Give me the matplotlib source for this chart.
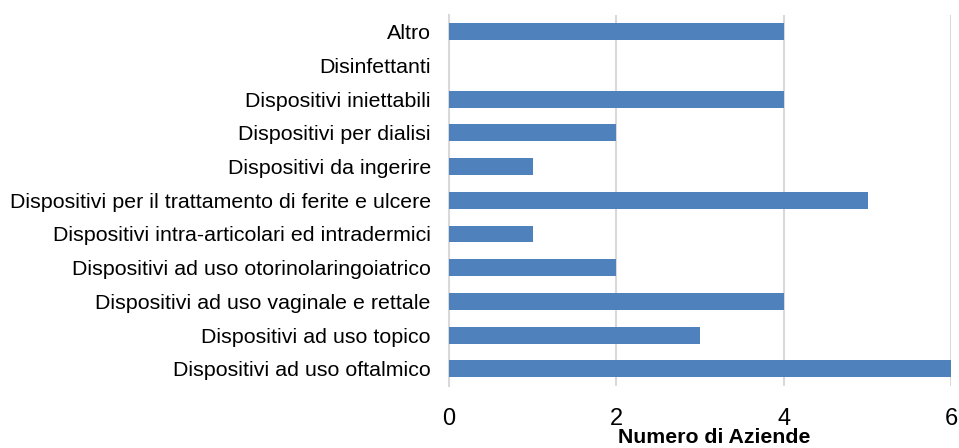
import matplotlib.pyplot as plt

plt.rcParams['font.family'] = ['Liberation Sans', 'DejaVu Sans']

categories = [
    "Dispositivi ad uso oftalmico",
    "Dispositivi ad uso topico",
    "Dispositivi ad uso vaginale e rettale",
    "Dispositivi ad uso otorinolaringoiatrico",
    "Dispositivi intra-articolari ed intradermici",
    "Dispositivi per il trattamento di ferite e ulcere",
    "Dispositivi da ingerire",
    "Dispositivi per dialisi",
    "Dispositivi iniettabili",
    "Disinfettanti",
    "Altro",
]
aziende = [6, 3, 4, 2, 1, 5, 1, 2, 4, 0, 4]
x_ticks = [0, 2, 4, 6]

fig = plt.figure(figsize=(9.59, 4.48), dpi=100)
ax = fig.add_axes([0.468, 0.139, 0.524, 0.828])

ax.barh(range(len(categories)), aziende, height=0.5, color='#4f81bd', zorder=3)

ax.set_xlim(0, 6)
ax.set_ylim(-0.5, len(categories) - 0.5)
ax.set_xticks(x_ticks)
ax.set_xticklabels([str(t) for t in x_ticks], fontsize=17)
ax.set_yticks(range(len(categories)))
ax.set_yticklabels(categories, fontsize=15.4)
ax.tick_params(axis='both', length=0)
ax.tick_params(axis='x', pad=16)
ax.tick_params(axis='y', pad=13)

ax.grid(axis='x', color='#d9d9d9', linewidth=1.5, zorder=0)
for side in ['top', 'right', 'bottom']:
    ax.spines[side].set_visible(False)
ax.spines['left'].set_color('#d9d9d9')
ax.spines['left'].set_linewidth(1.5)

ax.set_xlabel("Numero di Aziende", fontsize=15.3, fontweight='bold', labelpad=0)
ax.xaxis.set_label_coords(0.529, -0.114)

fig.savefig("out.png", dpi=100)
